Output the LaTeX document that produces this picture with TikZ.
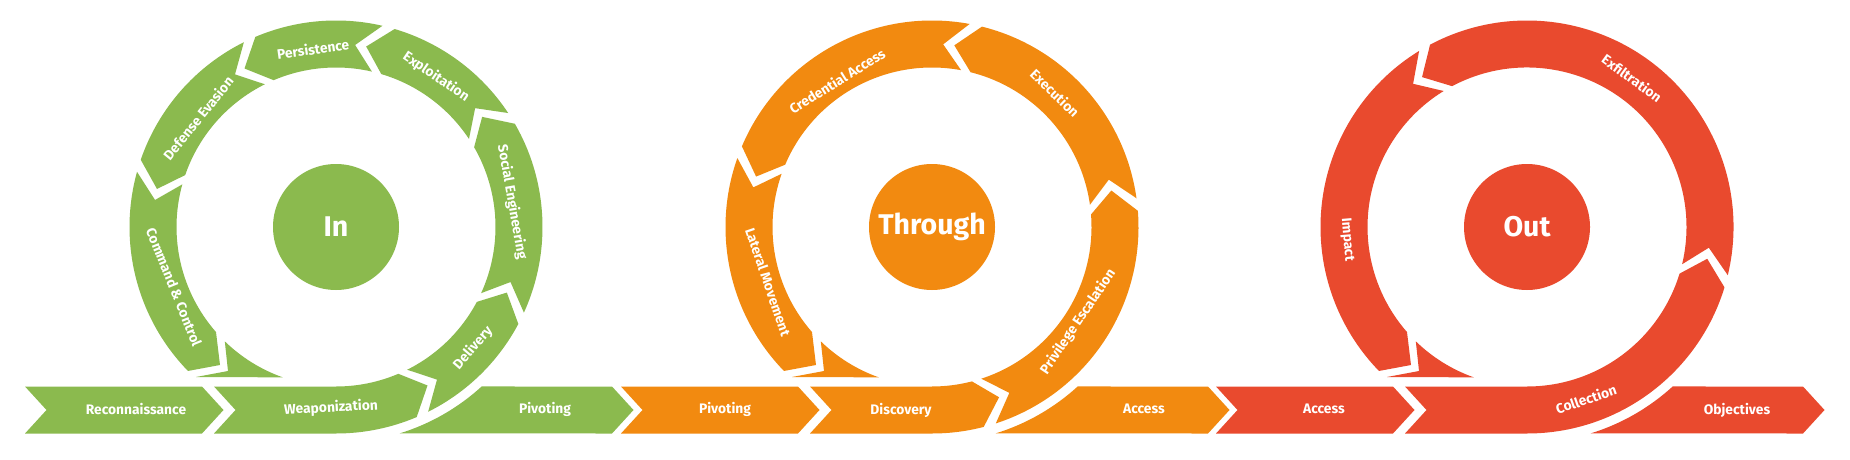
\documentclass[tikz,border=0pt]{standalone}
\usepackage{fontspec}
\setmainfont{Fira Sans}
\definecolor{cgreen}{HTML}{8BBA4E}
\definecolor{corange}{HTML}{F28A10}
\definecolor{cred}{HTML}{E94A2E}
\tikzset{
  lbl/.style={text=white, font=\fontsize{13.8}{15}\selectfont\bfseries, inner sep=0pt},
  hub/.style={circle, minimum size=126pt, inner sep=0pt, text=white, font=\fontsize{28.5}{30}\selectfont\bfseries}
}
% ring segment: colour, start angle (notch), end angle (head)
\newcommand{\ringseg}[3]{%
  \fill[#1] (#2:206.5) arc[start angle=#2, end angle=#3, radius=206.5] -- ({#3+7}:183) -- (#3:159.5)
    arc[start angle=#3, end angle=#2, radius=159.5] -- ({#2+7}:183) -- cycle;}
% strip + ring piece: colour, head angle
\newcommand{\midpiece}[2]{%
  \fill[#1] (-122,-159.5) -- (-100.5,-183) -- (-122,-206.5) -- (0,-206.5)
    arc[start angle=-90, end angle=#2, radius=206.5] -- ({#2+7}:183) -- (#2:159.5)
    arc[start angle=#2, end angle=-90, radius=159.5] -- cycle;}
% last ring segment with its head: colour, start angle
\newcommand{\lastseg}[2]{%
  \fill[#1] (#2:206.5) arc[start angle=#2, end angle=224.2, radius=206.5] -- (-116,-138) -- (221.2:159.5)
    arc[start angle=221.2, end angle=#2, radius=159.5] -- ({#2+7}:183) -- cycle;
  \fill[#1] (225.8:159.5) arc[start angle=225.8, end angle=250.5, radius=159.5] -- (-140,-150) -- (-108,-144) -- cycle;}
% left strip chevron
\newcommand{\leftstrip}[1]{%
  \fill[#1] (-311,-159.5) -- (-134,-159.5) -- (-112.5,-183) -- (-134,-206.5) -- (-311,-206.5) -- (-289.5,-183) -- cycle;}
% right strip chevron
\newcommand{\rightstrip}[1]{%
  \fill[#1] (-72.9:216) arc[start angle=-72.9, end angle=-47.6, radius=216] -- (276,-159.5) -- (297.5,-183) -- (276,-206.5) -- cycle;}

\begin{document}
\begin{tikzpicture}[x=1pt,y=1pt]
\fill[white] (0,0) rectangle (1850,-460);
\useasboundingbox (0,0) rectangle (1850,-460);

% ---------- green ----------
\begin{scope}[shift={(336,-227)}]
  \leftstrip{cgreen}
  \midpiece{cgreen}{-67}
  \rightstrip{cgreen}
  \ringseg{cgreen}{-63.5}{-28}
  \ringseg{cgreen}{-24.5}{30}
  \ringseg{cgreen}{33.5}{73.5}
  \ringseg{cgreen}{77}{113}
  \ringseg{cgreen}{116.5}{161}
  \lastseg{cgreen}{164.5}
  \node[hub, fill=cgreen] (gin) at (0,0) {In};
\end{scope}

% ---------- orange ----------
\begin{scope}[shift={(932,-227)}]
  \leftstrip{corange}
  \midpiece{corange}{-75.5}
  \rightstrip{corange}
  \ringseg{corange}{-72}{4.5}
  \ringseg{corange}{8}{76}
  \ringseg{corange}{79.5}{157}
  \lastseg{corange}{160.5}
  \node[hub, fill=corange] (othrough) at (0,0) {Through};
\end{scope}

% ---------- red ----------
\begin{scope}[shift={(1527,-227)}]
  \leftstrip{cred}
  \midpiece{cred}{-17}
  \rightstrip{cred}
  \ringseg{cred}{-13.5}{118}
  \lastseg{cred}{121.5}
  \node[hub, fill=cred] (rout) at (0,0) {Out};
\end{scope}

% ---------- labels green ----------
\node[lbl, rotate=8]   (g1) at (313,-49)  {Persistence};
\node[lbl, rotate=-34] (g2) at (436,-77)  {Exploitation};
\node[lbl, rotate=-80] (g3) at (512,-202) {Social Engineering};
\node[lbl, rotate=49]  (g4) at (473,-348) {Delivery};
\node[lbl, rotate=3]   (g5) at (331,-408) {Weaponization};
\node[lbl, rotate=51]  (g6) at (198,-118) {Defense Evasion};
\node[lbl, rotate=-68] (g7) at (174,-287) {Command \& Control};
\node[lbl]             (g8) at (136,-409) {Reconnaissance};
\node[lbl]             (g9) at (545,-409) {Pivoting};

% ---------- labels orange ----------
\node[lbl, rotate=32]  (o1) at (837,-81)  {Credential Access};
\node[lbl, rotate=-44] (o2) at (1055,-93) {Execution};
\node[lbl, rotate=56]  (o3) at (1078,-322) {Privilege Escalation};
\node[lbl, rotate=-71] (o4) at (768,-282) {Lateral Movement};
\node[lbl]             (o5) at (725,-409) {Pivoting};
\node[lbl]             (o6) at (901,-410) {Discovery};
\node[lbl]             (o7) at (1144,-409) {Access};

% ---------- labels red ----------
\node[lbl, rotate=-36] (r1) at (1632,-78)  {Exfiltration};
\node[lbl, rotate=-85] (r2) at (1347,-240) {Impact};
\node[lbl, rotate=19]  (r3) at (1586,-399) {Collection};
\node[lbl]             (r4) at (1324,-409) {Access};
\node[lbl]             (r5) at (1737,-410) {Objectives};
\end{tikzpicture}
\end{document}
